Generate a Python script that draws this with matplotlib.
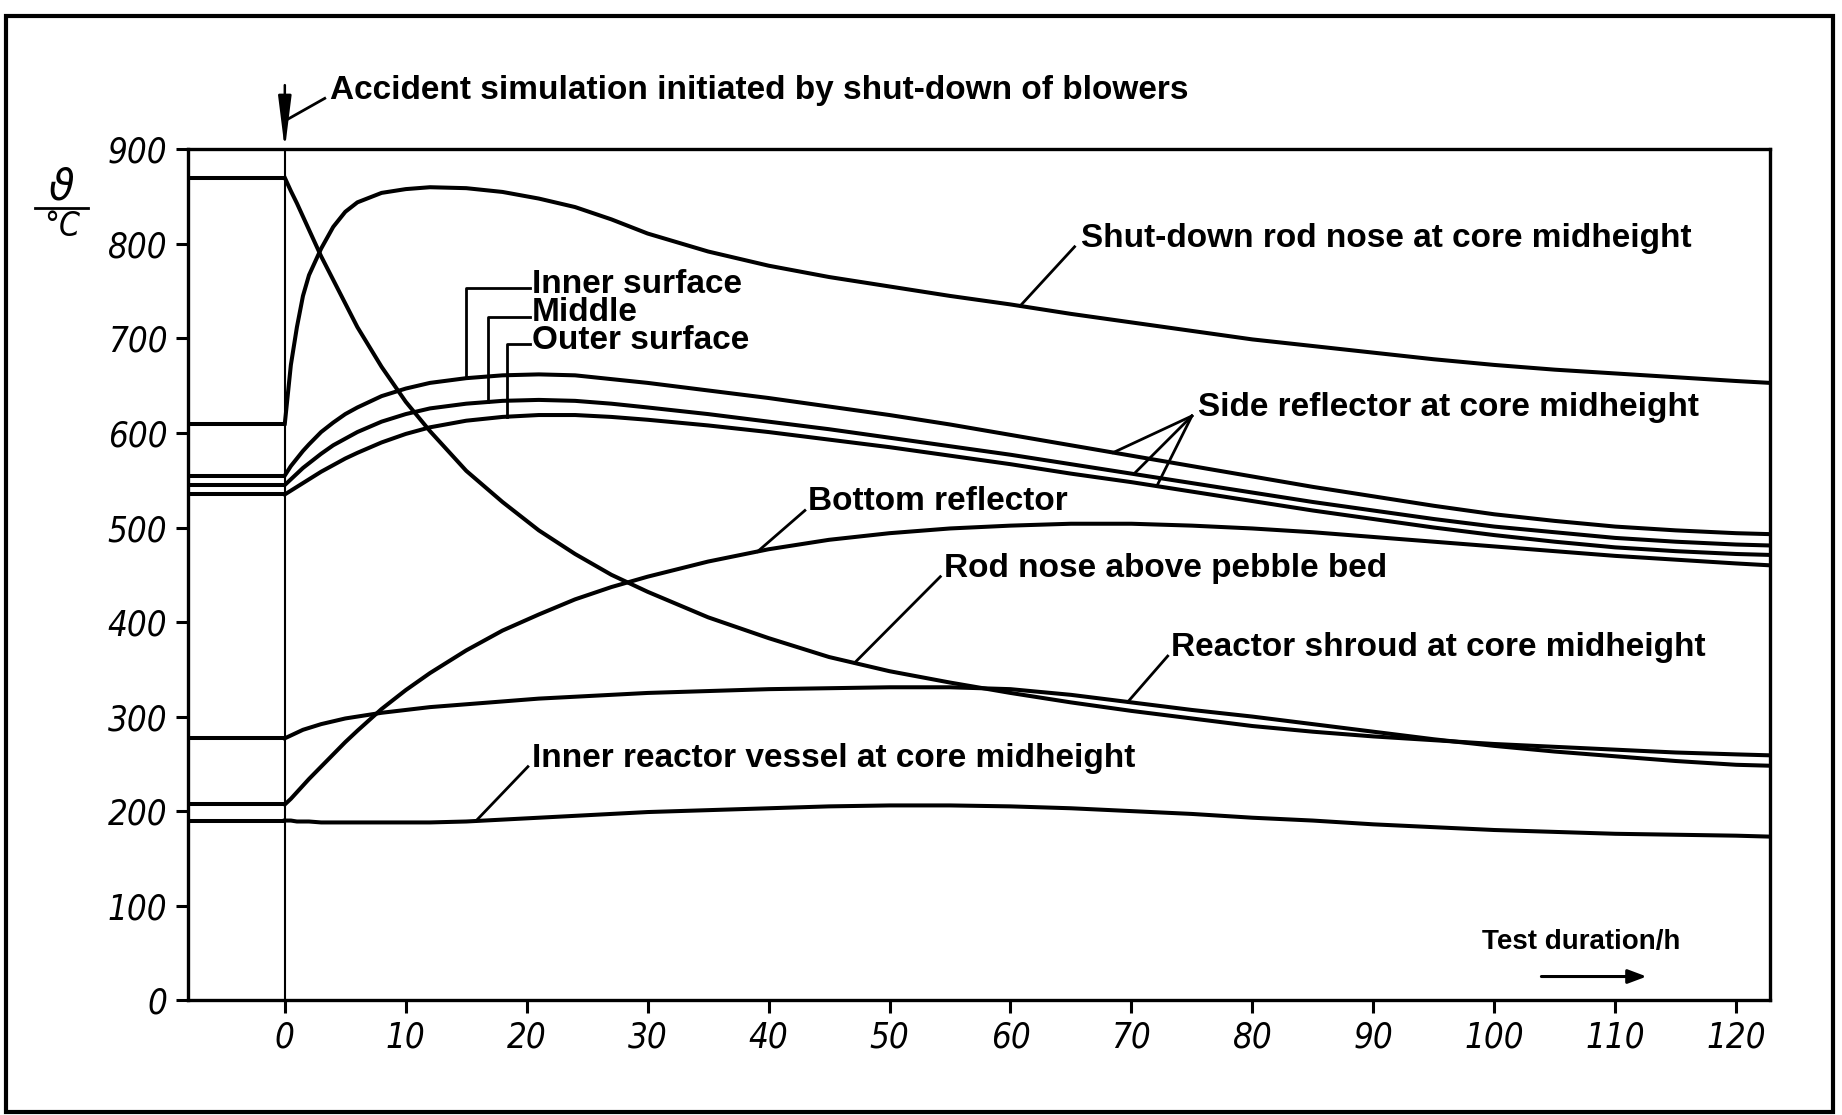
import numpy as np
import matplotlib.pyplot as plt
from matplotlib.patches import Rectangle
from matplotlib.lines import Line2D

# test duration / h (accident starts at t = 0, the strip from -8 to 0 is the steady state before)
t = [0, 0.5, 1, 1.5, 2, 3, 4, 5, 6, 8, 10, 12, 15, 18, 21, 24, 27, 30, 35, 40, 45, 50, 55,
     60, 65, 70, 75, 80, 85, 90, 95, 100, 105, 110, 115, 120, 122.8]

# temperatures / degC
shutdown_rod = [610, 672, 712, 745, 767, 795, 818, 834, 844, 854, 858, 860, 859, 855, 848,
                839, 826, 811, 792, 777, 765, 755, 745, 736, 726, 717, 708, 699, 692,
                685, 678, 672, 667, 663, 659, 655, 653]
rod_nose_bed = [870, 856, 843, 829, 815, 787, 762, 737, 712, 670, 633, 602, 560, 527, 497,
                472, 450, 432, 405, 383, 363, 348, 336, 325, 315, 306, 298, 290, 284,
                279, 275, 271, 268, 265, 262, 260, 259]
side_inner = [555, 565, 573, 581, 588, 601, 611, 620, 627, 639, 647, 653, 658, 661, 662,
              661, 657, 653, 645, 637, 628, 619, 609, 598, 587, 576, 565, 554, 543,
              533, 523, 514, 507, 501, 497, 494, 493]
side_middle = [545, 551, 557, 563, 568, 578, 587, 594, 601, 612, 620, 626, 631, 634, 635,
               634, 631, 627, 620, 612, 604, 595, 586, 577, 567, 557, 547, 537, 527,
               518, 509, 501, 495, 489, 485, 482, 481]
side_outer = [535, 539, 543, 547, 551, 559, 566, 573, 579, 590, 599, 606, 613, 617, 619,
              619, 617, 614, 608, 601, 593, 585, 576, 567, 557, 548, 538, 528, 518,
              509, 500, 492, 485, 479, 475, 472, 471]
bottom_refl = [207, 213, 220, 227, 234, 247, 260, 273, 285, 308, 328, 346, 370, 391, 408,
               424, 437, 448, 464, 477, 487, 494, 499, 502, 504, 504, 502, 499, 495,
               490, 485, 480, 475, 470, 466, 462, 460]
shroud = [277, 280, 283, 286, 288, 292, 295, 298, 300, 304, 307, 310, 313, 316, 319,
          321, 323, 325, 327, 329, 330, 331, 331, 329, 323, 315, 307, 300, 292,
          284, 276, 269, 263, 258, 253, 249, 248]
vessel = [190, 190, 189, 189, 189, 188, 188, 188, 188, 188, 188, 188, 189, 191, 193,
          195, 197, 199, 201, 203, 205, 206, 206, 205, 203, 200, 197, 193, 190,
          186, 183, 180, 178, 176, 175, 174, 173]

curves = [shutdown_rod, rod_nose_bed, side_inner, side_middle, side_outer,
          bottom_refl, shroud, vessel]

xticks = np.arange(0, 121, 10)
yticks = np.arange(0, 901, 100)

fig = plt.figure(figsize=(18.42, 11.15), dpi=100)
ax = fig.add_axes([0.1021, 0.103, 0.8588, 0.763])
ax.set_xlim(-8, 122.8)
ax.set_ylim(0, 900)

lw = 2.9
for c in curves:
    ax.hlines(c[0], -8, 0, color='k', lw=lw)
    ax.plot(t, c, color='k', lw=lw, solid_joinstyle='round')
ax.axvline(0, color='k', lw=1.5)

for s in ax.spines.values():
    s.set_linewidth(2.4)
ax.set_xticks(xticks)
ax.set_yticks(yticks)
ax.tick_params(direction='out', length=9, width=2.2, pad=6)
tick_font = dict(family=['DejaVu Sans Condensed', 'DejaVu Sans'], stretch='condensed',
                 style='italic', size=25)
ax.set_xticklabels([str(v) for v in xticks], **tick_font)
ax.set_yticklabels([str(v) for v in yticks], **tick_font)

lab = dict(family=['Liberation Sans', 'DejaVu Sans'], weight='bold', size=24,
           ha='left', va='center', color='k')
llw = 2.0

def leader(x0, y0, x1, series):
    ax.plot([x0, x1], [y0, np.interp(x1, t, series)], color='k', lw=llw)

# accident marker
ax.annotate('', xy=(0, 900), xytext=(0, 968), annotation_clip=False,
            arrowprops=dict(arrowstyle='-|>,head_length=1.6,head_width=0.2',
                            color='k', lw=1.8, mutation_scale=20, shrinkA=0, shrinkB=0))
ax.text(3.7, 962, 'Accident simulation initiated by shut-down of blowers', clip_on=False, **lab)
ax.plot([3.3, 0.25], [954, 932], color='k', lw=llw, clip_on=False)

ax.text(65.8, 806, 'Shut-down rod nose at core midheight', **lab)
leader(65.3, 797, 60.8, shutdown_rod)

# side reflector surfaces, bracket style leaders
for name, yt, xv, series in [('Inner surface', 757, 15.0, side_inner),
                             ('Middle', 727, 16.8, side_middle),
                             ('Outer surface', 698, 18.4, side_outer)]:
    ax.text(20.4, yt, name, **lab)
    ax.plot([20.3, xv, xv], [yt - 4, yt - 4, np.interp(xv, t, series)], color='k', lw=llw)

ax.text(75.5, 627, 'Side reflector at core midheight', **lab)
for xv, series in [(68.5, side_inner), (70.2, side_middle), (72.1, side_outer)]:
    leader(75.0, 618, xv, series)

ax.text(43.3, 527, 'Bottom reflector', **lab)
leader(43.0, 518, 39.1, bottom_refl)

ax.text(54.5, 457, 'Rod nose above pebble bed', **lab)
leader(54.2, 448, 47.1, rod_nose_bed)

ax.text(73.3, 373, 'Reactor shroud at core midheight', **lab)
leader(73.0, 364, 69.7, shroud)

ax.text(20.4, 256, 'Inner reactor vessel at core midheight', **lab)
leader(20.1, 247, 15.8, vessel)

ax.text(99.0, 61, 'Test duration/h', **dict(lab, size=20))
ax.annotate('', xy=(112.6, 25), xytext=(103.9, 25),
            arrowprops=dict(arrowstyle='-|>,head_length=0.8,head_width=0.3',
                            color='k', lw=2.2, mutation_scale=14, shrinkA=0, shrinkB=0))

# axis quantity written as a fraction
fig.text(52 / 1568, 1 - 160 / 949, 'ϑ', family='DejaVu Sans', style='italic',
         size=30, ha='center', va='center')
fig.add_artist(Line2D([30 / 1568, 75 / 1568], [1 - 177 / 949] * 2,
                      transform=fig.transFigure, color='k', lw=2))
fig.text(53 / 1568, 1 - 193 / 949, '°C', family=['DejaVu Sans Condensed', 'DejaVu Sans'],
         stretch='condensed', style='italic', size=24, ha='center', va='center')

# outer frame of the figure
fig.add_artist(Rectangle((0.003, 0.003), 0.992, 0.983, transform=fig.transFigure,
                         fill=False, lw=3, ec='k'))

fig.savefig('out.png', dpi=100)
